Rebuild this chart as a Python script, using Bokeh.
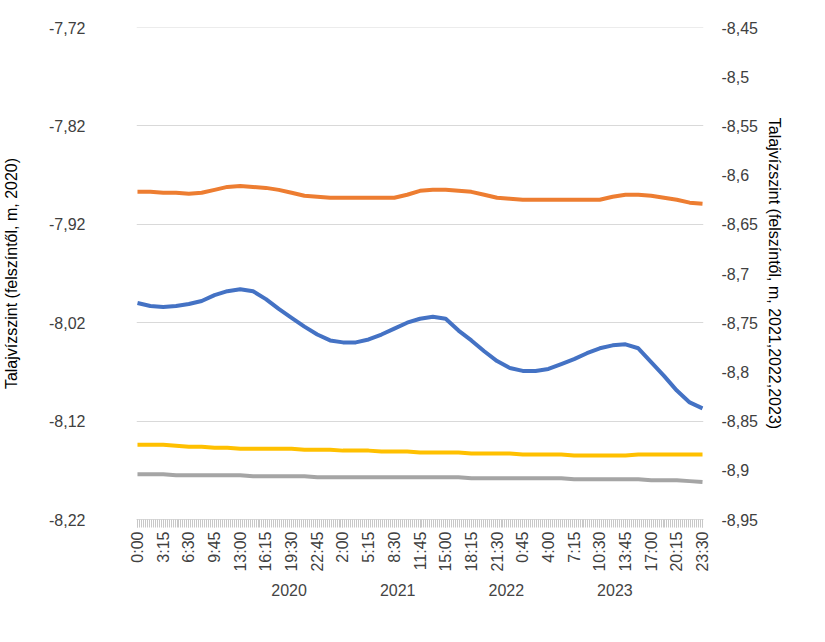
from math import pi
from bokeh.plotting import figure
from bokeh.layouts import column
from bokeh.models import (Range1d, LinearAxis, FixedTicker, Legend, LegendItem,
                          CustomJSTickFormatter)
from bokeh.embed import file_html
from bokeh.resources import INLINE

# 15-minute steps over three days, labels every 13 steps
n_steps = 287
tick_labels = ["0:00", "3:15", "6:30", "9:45", "13:00", "16:15", "19:30", "22:45",
               "2:00", "5:15", "8:30", "11:45", "15:00", "18:15", "21:30", "0:45",
               "4:00", "7:15", "10:30", "13:45", "17:00", "20:15", "23:30"]
series_names = ["2020", "2021", "2022", "2023"]

# readings every 6.5 steps (index positions)
idx = [i * 6.5 for i in range(45)]

y2020 = [-8.000, -8.003, -8.004, -8.003, -8.001, -7.998, -7.992, -7.988, -7.986, -7.988,
         -7.996, -8.006, -8.015, -8.024, -8.032, -8.038, -8.040, -8.040, -8.037, -8.032,
         -8.026, -8.020, -8.016, -8.014, -8.016, -8.028, -8.038, -8.049, -8.059, -8.066,
         -8.069, -8.069, -8.067, -8.062, -8.057, -8.051, -8.046, -8.043, -8.042, -8.046,
         -8.060, -8.074, -8.089, -8.101, -8.107]
y2021 = [-8.617, -8.617, -8.618, -8.618, -8.619, -8.618, -8.615, -8.612, -8.611, -8.612,
         -8.613, -8.615, -8.618, -8.621, -8.622, -8.623, -8.623, -8.623, -8.623, -8.623,
         -8.623, -8.620, -8.616, -8.615, -8.615, -8.616, -8.617, -8.620, -8.623, -8.624,
         -8.625, -8.625, -8.625, -8.625, -8.625, -8.625, -8.625, -8.622, -8.620, -8.620,
         -8.621, -8.623, -8.625, -8.628, -8.629]
y2022 = [-8.904, -8.904, -8.904, -8.905, -8.905, -8.905, -8.905, -8.905, -8.905, -8.906,
         -8.906, -8.906, -8.906, -8.906, -8.907, -8.907, -8.907, -8.907, -8.907, -8.907,
         -8.907, -8.907, -8.907, -8.907, -8.907, -8.907, -8.908, -8.908, -8.908, -8.908,
         -8.908, -8.908, -8.908, -8.908, -8.909, -8.909, -8.909, -8.909, -8.909, -8.909,
         -8.910, -8.910, -8.910, -8.911, -8.912]
y2023 = [-8.874, -8.874, -8.874, -8.875, -8.876, -8.876, -8.877, -8.877, -8.878, -8.878,
         -8.878, -8.878, -8.878, -8.879, -8.879, -8.879, -8.880, -8.880, -8.880, -8.881,
         -8.881, -8.881, -8.882, -8.882, -8.882, -8.882, -8.883, -8.883, -8.883, -8.883,
         -8.884, -8.884, -8.884, -8.884, -8.885, -8.885, -8.885, -8.885, -8.885, -8.884,
         -8.884, -8.884, -8.884, -8.884, -8.884]

colors = ["#4472C4", "#ED7D31", "#A5A5A5", "#FFC000"]
font = "Liberation Sans"

p = figure(frame_width=567, frame_height=492, output_backend="svg", toolbar_location=None,
           x_range=Range1d(-0.5, n_steps - 0.5), y_range=Range1d(-8.22, -7.72),
           min_border_left=10, min_border_right=10, min_border_top=27, min_border_bottom=0,
           outline_line_color=None, border_fill_color="white")
p.extra_y_ranges = {"right": Range1d(-8.95, -8.45)}

p.xgrid.grid_line_color = None
p.ygrid.grid_line_color = "#D9D9D9"
p.ygrid.ticker = FixedTicker(ticks=[-8.22 + 0.1 * i for i in range(6)])

label_pos = [13 * k for k in range(len(tick_labels))]
p.xaxis.ticker = FixedTicker(ticks=label_pos, minor_ticks=list(range(n_steps)))
p.xaxis.major_label_overrides = {pos: s for pos, s in zip(label_pos, tick_labels)}
p.xaxis.major_label_orientation = pi / 2
p.xaxis.major_tick_line_color = "#C8C8C8"
p.xaxis.major_tick_in = 0
p.xaxis.major_tick_out = 8
p.xaxis.minor_tick_line_color = "#C8C8C8"
p.xaxis.minor_tick_in = 0
p.xaxis.minor_tick_out = 8
p.xaxis.axis_line_color = "#D9D9D9"
p.xaxis.major_label_standoff = 4

p.yaxis.ticker = FixedTicker(ticks=[-8.22 + 0.1 * i for i in range(6)])
p.yaxis.formatter = CustomJSTickFormatter(code="return tick.toFixed(2).replace('.', ',');")
p.yaxis.axis_label = "Talajvízszint (felszíntől, m, 2020)"
p.yaxis.axis_label_standoff = 26

right = LinearAxis(y_range_name="right",
                   ticker=FixedTicker(ticks=[-8.95 + 0.05 * i for i in range(11)]),
                   formatter=CustomJSTickFormatter(
                       code="let s = (Math.round(tick*100)/100).toString(); return s.replace('.', ',');"),
                   axis_label="Talajvízszint (felszíntől, m, 2021,2022,2023)")
p.add_layout(right, "right")

for ax in [p.yaxis[0], right]:
    ax.axis_line_color = None
    ax.major_tick_line_color = None
    ax.minor_tick_line_color = None
p.yaxis.major_label_standoff = 45
right.major_label_standoff = 12
for ax in [p.xaxis[0], p.yaxis[0], right]:
    ax.major_label_text_font = font
    ax.major_label_text_font_size = "16px"
    ax.major_label_text_color = "#404040"
    ax.axis_label_text_font = font
    ax.axis_label_text_font_size = "16px"
    ax.axis_label_text_font_style = "normal"
    ax.axis_label_text_color = "#000000"

p.line(idx, y2020, line_color=colors[0], line_width=4)
p.line(idx, y2021, line_color=colors[1], line_width=4, y_range_name="right")
p.line(idx, y2022, line_color=colors[2], line_width=4, y_range_name="right")
p.line(idx, y2023, line_color=colors[3], line_width=4, y_range_name="right")

# legend in its own strip under the chart
lf = figure(width=p.frame_width + 230, height=34, output_backend="svg", toolbar_location=None,
            x_axis_type=None, y_axis_type=None, outline_line_color=None, min_border=0,
            x_range=Range1d(0, 1), y_range=Range1d(0, 1))
lf.xgrid.grid_line_color = None
lf.ygrid.grid_line_color = None
items = []
for name, c in zip(series_names, colors):
    r = lf.line([], [], line_color=c, line_width=4)
    items.append(LegendItem(label=name, renderers=[r]))
legend = Legend(items=items, orientation="horizontal", location="center",
                border_line_color=None, background_fill_alpha=0,
                label_text_font=font, label_text_font_size="16px", glyph_width=48,
                spacing=20, padding=2, margin=0)
lf.add_layout(legend, "center")

layout = column(p, lf, spacing=0)
open("out.html", "w").write(file_html(layout, INLINE))
